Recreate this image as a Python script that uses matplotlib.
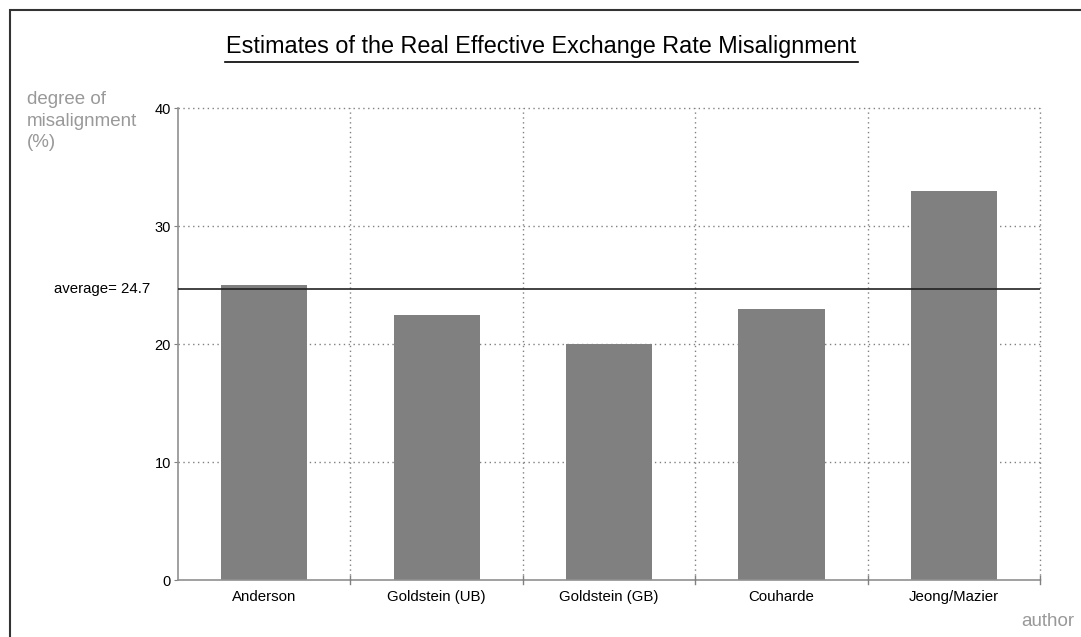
import matplotlib.pyplot as plt
from matplotlib.patches import Rectangle

plt.rcParams['font.family'] = ['Liberation Sans', 'DejaVu Sans']

authors = ['Anderson', 'Goldstein (UB)', 'Goldstein (GB)', 'Couharde', 'Jeong/Mazier']
misalignment = [25.0, 22.5, 20.0, 23.0, 33.0]
average = 24.7
yticks = [0, 10, 20, 30, 40]

fig = plt.figure(figsize=(10.81, 6.37), dpi=100)
fig.patches.append(Rectangle((10 / 1081, -0.1), 1.2, 1 - 10 / 637 + 0.1, transform=fig.transFigure,
                             fill=False, edgecolor='#333333', linewidth=1.5))

ax = fig.add_axes([178 / 1081, 57 / 637, (1040 - 178) / 1081, (580 - 108) / 637])
x = list(range(len(authors)))
ax.bar(x, misalignment, width=0.5, color='#808080', zorder=2)

ax.set_xlim(-0.5, len(authors) - 0.5)
ax.set_ylim(0, 40)
ax.set_yticks(yticks)
ax.set_xticks(x)
ax.set_xticklabels(authors, fontsize=10.8)
ax.tick_params(axis='x', length=0, pad=7)
ax.tick_params(axis='y', length=3, color='#808080', labelsize=10.5, pad=2)

# boundary ticks and dotted grid
for b in [i + 0.5 for i in range(len(authors))]:
    ax.axvline(b, color='#808080', linestyle=(0, (1, 2.5)), linewidth=1, zorder=1, clip_on=False)
    ax.plot([b, b], [-0.35, 0.35], color='#808080', linewidth=1, clip_on=False, zorder=3)
for t in yticks[1:]:
    ax.axhline(t, color='#808080', linestyle=(0, (1, 2.5)), linewidth=1, zorder=1, clip_on=False)

for s in ['top', 'right']:
    ax.spines[s].set_visible(False)
for s in ['left', 'bottom']:
    ax.spines[s].set_color('#909090')
    ax.spines[s].set_linewidth(1.2)

ax.axhline(average, color='#222222', linewidth=1.2, zorder=3)
ax.text(-0.66, average, 'average= %.1f' % average, ha='right', va='center', fontsize=10.8)

fig.text(27 / 1081, 1 - 91 / 637, 'degree of\nmisalignment\n(%)', color='#999999',
         fontsize=13.5, ha='left', va='top', linespacing=1.35)
fig.text(1074 / 1081, 1 - 622 / 637, 'author', color='#999999', fontsize=13.5, ha='right', va='center')

title = fig.text(541 / 1081, 1 - 46 / 637, 'Estimates of the Real Effective Exchange Rate Misalignment',
                 fontsize=16.8, ha='center', va='center')
fig.add_artist(plt.Line2D([225 / 1081, 858 / 1081], [1 - 62 / 637, 1 - 62 / 637],
                          color='black', linewidth=1.2))

fig.savefig('out.png', dpi=100)
